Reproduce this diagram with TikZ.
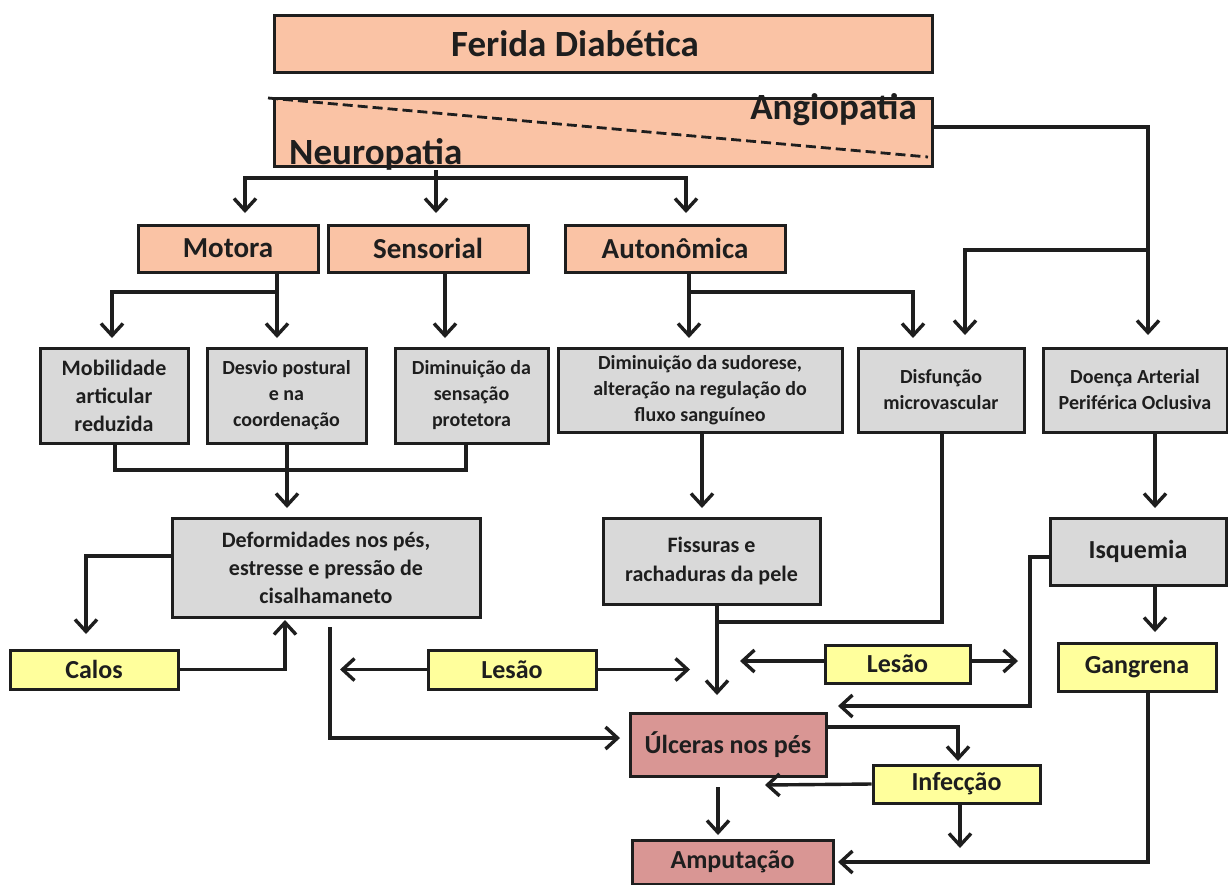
\documentclass[tikz,border=0pt]{standalone}
\usepackage{fontspec}
\setmainfont{Carlito}
\usetikzlibrary{arrows.meta}
\definecolor{peach}{HTML}{FAC3A5}
\definecolor{grayfill}{HTML}{D9D9D9}
\definecolor{yellowfill}{HTML}{FFFF9C}
\definecolor{pinkfill}{HTML}{D99694}
\definecolor{ink}{HTML}{1E1E1E}
\begin{document}
\begin{tikzpicture}[x=1pt,y=-1pt,
  box/.style={draw=ink, line width=3pt, text=ink, align=center, inner sep=1pt, font=\bfseries},
  pbox/.style={box, fill=peach},
  gbox/.style={box, fill=grayfill},
  ybox/.style={box, fill=yellowfill},
  rbox/.style={box, fill=pinkfill},
  fbig/.style={font=\bfseries\fontsize{37}{40}\selectfont},
  fmid/.style={font=\bfseries\fontsize{29}{32}\selectfont},
  flab/.style={font=\bfseries\fontsize{26}{30}\selectfont},
  fsm/.style={font=\bfseries\fontsize{22}{28}\selectfont},
  fxs/.style={font=\bfseries\fontsize{20}{26}\selectfont},
  conn/.style={draw=ink, line width=3.4pt},
  arr/.style={conn, -{Straight Barb[length=12pt,width=22pt]}},
  sz/.style n args={2}{minimum width=#1pt, minimum height=#2pt}
]
\useasboundingbox (0,0) rectangle (1228,884);
\fill[white] (0,0) rectangle (1228,884);

% top boxes
\node[pbox, fbig, sz={658}{57}] (ferida) at (603,43.5) {\hspace*{-56pt}Ferida Diabética};
\node[pbox, sz={658}{68}] (angio) at (603,132) {};
\draw[ink, line width=2.8pt, dash pattern=on 10pt off 5pt] (268,98) -- (928,157);
\node[fbig, text=ink, anchor=east, inner sep=0pt] (angiotext) at (917,110) {Angiopatia};
\node[fbig, text=ink, anchor=base west, inner sep=0pt] (neurotext) at (289,164) {Neuropatia};

% neuropathy types
\node[pbox, fmid, sz={180}{47}] (motora) at (228,248.5) {Motora};
\node[pbox, fmid, sz={200}{47}] (sensorial) at (428,248.5) {Sensorial};
\node[pbox, fmid, sz={220}{47}] (autonomica) at (675,248.5) {Autonômica};

% second row
\node[gbox, fsm, sz={148}{95}] (mobil) at (114,395.5) {Mobilidade\\articular\\reduzida};
\node[gbox, fxs, sz={159}{95}] (desvio) at (286.5,395.5) {Desvio postural\\e na\\coordenação};
\node[gbox, fxs, sz={153}{95}] (sensacao) at (471.5,395.5) {Diminuição da\\sensação\\protetora};
\node[gbox, fxs, sz={284}{84}] (sudorese) at (700,390) {Diminuição da sudorese,\\alteração na regulação do\\fluxo sanguíneo};
\node[gbox, fxs, sz={166}{84}] (disfuncao) at (941,390) {Disfunção\\microvascular};
\node[gbox, fxs, sz={184}{84}] (doenca) at (1135,390) {Doença Arterial\\Periférica Oclusiva};

% third row
\node[gbox, fsm, sz={308}{99}] (deform) at (326,567.5) {Deformidades nos pés,\\estresse e pressão de\\cisalhamaneto};
\node[gbox, fsm, sz={217}{86}, font=\bfseries\fontsize{22}{29}\selectfont] (fissuras) at (711.5,561) {Fissuras e\\rachaduras da pele};
\node[gbox, flab, sz={176}{67}] (isquemia) at (1138,551.5) {Isquemia};

% yellow
\node[ybox, flab, sz={168}{39}] (calos) at (94,669.5) {Calos};
\node[ybox, flab, sz={168}{39}] (lesao1) at (512,669.5) {Lesão};
\node[ybox, flab, sz={145}{38}] (lesao2) at (897.5,664) {Lesão};
\node[ybox, flab, sz={158}{48}] (gangrena) at (1137,667) {Gangrena};
\node[ybox, flab, sz={167}{38}] (infeccao) at (956.5,784) {Infecção};

% red
\node[rbox, flab, sz={196}{63}] (ulceras) at (728,744.5) {Úlceras nos pés};
\node[rbox, flab, sz={201}{44}] (amputacao) at (732.5,862) {Amputação};

% coordinates
\coordinate (nj) at (436,178);
\coordinate (aj) at (1148,250);
\coordinate (mj) at (277,292);
\coordinate (oj) at (689,292);
\coordinate (rj) at (287,470);
\coordinate (fj) at (717,622);
\coordinate (defout) at (330,627);
\coordinate (ulcin) at (620,738);
\coordinate (l1l) at (340,670);
\coordinate (l1r) at (690,670);
\coordinate (l2l) at (740,661);
\coordinate (l2r) at (1018,661);
\coordinate (isqend) at (838,706);
\coordinate (gangend) at (838,862);
\coordinate (infend) at (765,785);
\coordinate (ulcout) at (718,787);

% neuropatia branches
\draw[conn] (436,0 |- neurotext.south) -- (nj);
\draw[arr] (nj) -- (245,178) -- (245,213);
\draw[arr] (nj) -- (436,213);
\draw[arr] (nj) -- (686,178) -- (686,213);

% angiopatia branches
\draw[arr] (angio.east |- 0,127) -- (1148,127) -- (1148,335);
\draw[arr] (aj) -- (965,250) -- (965,335);

% motora
\draw[conn] (277,0 |- motora.south) -- (mj);
\draw[arr] (mj) -- (112,292) -- (112,338);
\draw[arr] (mj) -- (277,338);
% sensorial
\draw[arr] (445,0 |- sensorial.south) -- (445,338);
% autonomica
\draw[conn] (689,0 |- autonomica.south) -- (oj);
\draw[arr] (oj) -- (689,338);
\draw[arr] (oj) -- (913,292) -- (913,338);

% merge to deformidades
\draw[conn] (115,0 |- mobil.south) -- (115,470) -- (466,470) -- (466,0 |- sensacao.south);
\draw[conn] (287,0 |- desvio.south) -- (rj);
\draw[arr] (rj) -- (287,508);

% deformidades -> calos and back
\draw[arr] (deform.west |- 0,556) -- (86,556) -- (86,634);
\draw[arr] (calos.east) -- (285,0 |- calos.east) -- (285,620);

% deformidades -> ulceras
\draw[arr] (defout) -- (330,738) -- (ulcin);

% lesao 1
\draw[arr] (lesao1.west) -- (l1l |- lesao1.west);
\draw[arr] (lesao1.east) -- (l1r |- lesao1.east);

% sudorese -> fissuras
\draw[arr] (702,0 |- sudorese.south) -- (702,508);
% fissuras and disfuncao -> ulceras
\draw[arr] (717,0 |- fissuras.south) -- (717,695);
\draw[conn] (942,0 |- disfuncao.south) -- (942,622) -- (fj);

% lesao 2
\draw[arr] (lesao2.west |- l2l) -- (l2l);
\draw[arr] (lesao2.east |- l2r) -- (l2r);

% doenca -> isquemia
\draw[arr] (1155,0 |- doenca.south) -- (1155,508);
% isquemia -> ulceras
\draw[arr] (isquemia.west |- 0,557) -- (1030,557) -- (1030,706) -- (isqend);
% isquemia -> gangrena
\draw[arr] (1155,0 |- isquemia.south) -- (1155,632);
% gangrena -> amputacao
\draw[arr] (1148,0 |- gangrena.south) -- (1148,862) -- (gangend);

% ulceras -> infeccao
\draw[arr] (ulceras.east |- 0,727) -- (958,727) -- (958,761);
\draw[arr] (infeccao.west) -- (infend);
\draw[arr] (960,0 |- infeccao.south) -- (960,848);
\draw[arr] (ulcout) -- (718,835);
\end{tikzpicture}
\end{document}
